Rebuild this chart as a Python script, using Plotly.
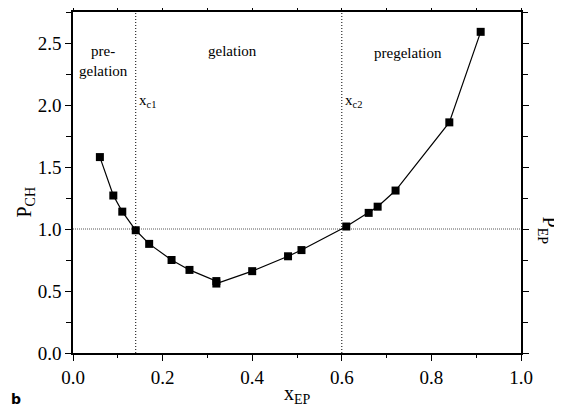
import plotly.graph_objects as go

x_ep = [0.06, 0.09, 0.11, 0.14, 0.17, 0.22, 0.26, 0.32, 0.32, 0.40, 0.48, 0.51, 0.61, 0.66, 0.68, 0.72, 0.84, 0.91]
p_ch = [1.58, 1.27, 1.14, 0.99, 0.88, 0.75, 0.67, 0.58, 0.56, 0.66, 0.78, 0.83, 1.02, 1.13, 1.18, 1.31, 1.86, 2.59]

x_c1 = 0.14
x_c2 = 0.60
p_ref = 1.0

x_ticks = [0.0, 0.2, 0.4, 0.6, 0.8, 1.0]
y_ticks = [0.0, 0.5, 1.0, 1.5, 2.0, 2.5]

SERIF = "Liberation Serif"

fig = go.Figure()

fig.add_trace(go.Scatter(
    x=x_ep, y=p_ch, mode="lines+markers",
    line=dict(color="black", width=1.2),
    marker=dict(symbol="square", size=8, color="black"),
    showlegend=False,
))

# reference lines
fig.add_shape(type="line", x0=x_c1, x1=x_c1, y0=0, y1=2.75, xref="x", yref="y",
              line=dict(color="black", width=1, dash="1px,2px"))
fig.add_shape(type="line", x0=x_c2, x1=x_c2, y0=0, y1=2.75, xref="x", yref="y",
              line=dict(color="black", width=1, dash="1px,2px"))
fig.add_shape(type="line", x0=0, x1=1, y0=p_ref, y1=p_ref, xref="x", yref="y",
              line=dict(color="#555555", width=1, dash="1px,1px"), layer="below")

ann_font = dict(family=SERIF, size=15, color="black")
fig.add_annotation(x=0.068, y=2.52, text="pre-<br>gelation", showarrow=False,
                   font=ann_font, align="center", xref="x", yref="y", yanchor="top")
fig.add_annotation(x=0.355, y=2.52, text="gelation", showarrow=False, font=ann_font,
                   xref="x", yref="y", yanchor="top")
fig.add_annotation(x=0.747, y=2.5, text="pregelation", showarrow=False, font=ann_font,
                   xref="x", yref="y", yanchor="top")
fig.add_annotation(x=0.142, y=2.03, text="x<sub>c1</sub>", showarrow=False, font=ann_font,
                   xref="x", yref="y", xanchor="left", yanchor="middle")
fig.add_annotation(x=0.602, y=2.03, text="x<sub>c2</sub>", showarrow=False, font=ann_font,
                   xref="x", yref="y", xanchor="left", yanchor="middle")

# axis titles
title_font = dict(family=SERIF, size=20, color="black")
fig.add_annotation(text="P<sub>CH</sub>", x=0, y=0.5, xref="paper", yref="paper",
                   showarrow=False, textangle=-90, font=title_font,
                   xanchor="center", yanchor="middle", xshift=-48, yshift=-20)
fig.add_annotation(text="P<sub>EP</sub>", x=1, y=0.5, xref="paper", yref="paper",
                   showarrow=False, textangle=90, font=title_font,
                   xanchor="center", yanchor="middle", xshift=27, yshift=-48)
fig.add_annotation(text="x<sub>EP</sub>", x=0.5, y=0, xref="paper", yref="paper",
                   showarrow=False, font=title_font,
                   xanchor="center", yanchor="middle", yshift=-41)
fig.add_annotation(text="b", x=0, y=0, xref="paper", yref="paper", showarrow=False,
                   font=dict(family="DejaVu Sans", size=14, color="black", weight="bold"),
                   xanchor="left", yanchor="middle", xshift=-64, yshift=-46)

fig.update_xaxes(
    range=[0, 1], tickvals=x_ticks, ticktext=[f"{v:.1f}" for v in x_ticks],
    ticks="outside", ticklen=6, tickwidth=1.2, tickcolor="black",
    minor=dict(dtick=0.1, tick0=0, ticks="outside", ticklen=3.5, tickwidth=1.2, tickcolor="black"),
    showline=True, linecolor="black", linewidth=1.5, mirror="ticks",
    showgrid=False, zeroline=False, automargin=False,
    tickfont=dict(family=SERIF, size=19, color="black"),
)
fig.update_yaxes(
    range=[0, 2.75], tickvals=y_ticks, ticktext=[f"{v:.1f}" for v in y_ticks],
    ticks="outside", ticklen=6, tickwidth=1.2, tickcolor="black",
    minor=dict(dtick=0.25, tick0=0, ticks="outside", ticklen=5, tickwidth=1.2, tickcolor="black"),
    showline=True, linecolor="black", linewidth=1.5, mirror="ticks",
    showgrid=False, zeroline=False, automargin=False,
    tickfont=dict(family=SERIF, size=19, color="black"),
)

# the page body has an 8px margin, so the figure is 8px smaller than the window
fig.update_layout(
    width=554, height=398,
    margin=dict(l=65, r=41, t=4, b=53),
    paper_bgcolor="white", plot_bgcolor="white",
)

fig.write_html("out.html")
